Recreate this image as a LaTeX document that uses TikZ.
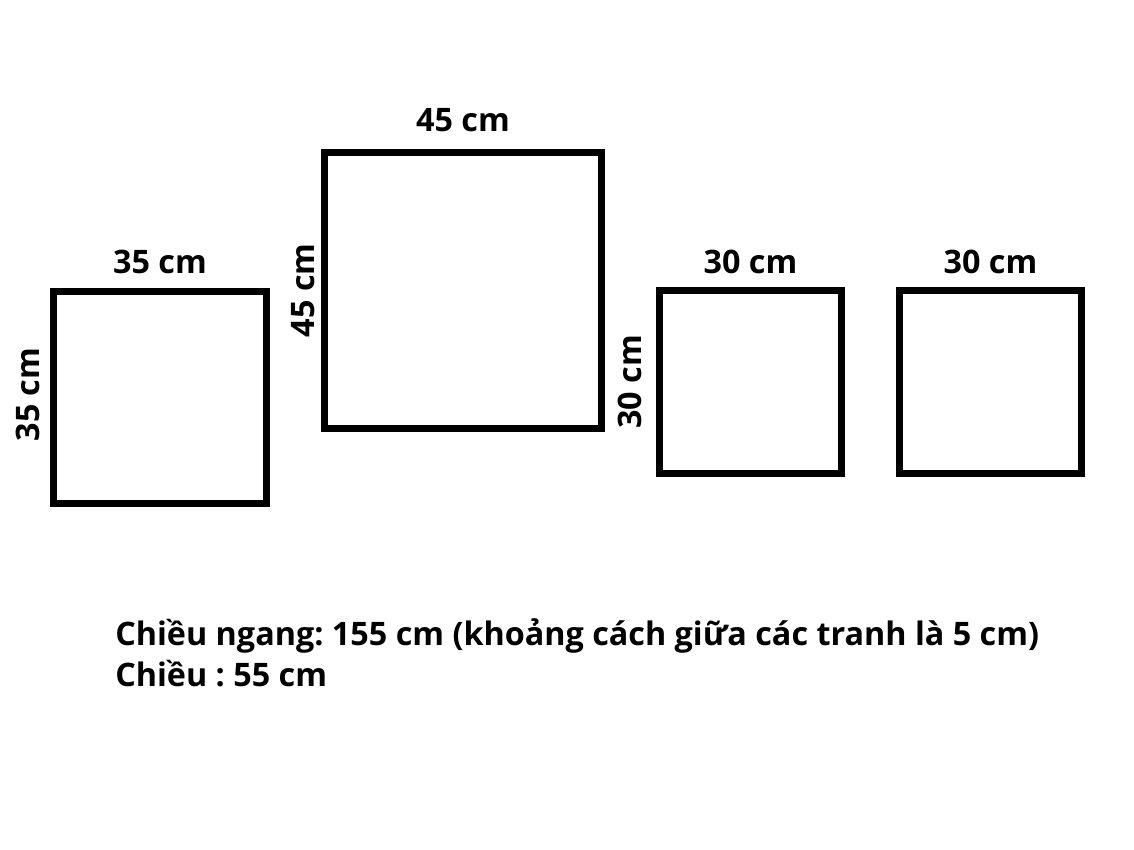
\documentclass[tikz,border=0pt]{standalone}
\usepackage{fontspec}
\setmainfont{Open Sans}
\usetikzlibrary{calc}
\frenchspacing
\begin{document}
\begin{tikzpicture}
[x=0.025cm,y=-0.025cm,%
  framedecorate/.style={shape=rectangle,inner sep=0pt,draw,line width=5pt},%
  sizedecorate/.style={inner sep=0pt,anchor=base,font=\fontsize{23}{29}\selectfont\bfseries},%
  notedecorate/.style={inner sep=0pt,anchor=base west,font=\fontsize{23}{29}\selectfont\bfseries}]
\useasboundingbox (0,0) rectangle (1134,850);
%% frames of the pictures
\foreach \nodename/\x/\y/\side in {b1/160/397.5/5.3cm, b2/463/290.4/6.9cm,
  b3/750.5/382/4.55cm, b4/990.5/382/4.55cm} {
  \node (\nodename) at (\x,\y) [framedecorate,minimum width=\side,minimum height=\side] {};
}
%% sizes above the frames
\foreach \nodename/\dy/\txt in {b1/14.5/35, b2/17.8/45, b3/13.7/30, b4/13.7/30} {
  \node (\nodename top) at ($(\nodename.north)+(0,-\dy)$) [sizedecorate] {\txt{} cm};
}
%% sizes left of the frames
\foreach \nodename/\dx/\dy/\txt in {b1/10.5/-3/35, b2/7/0/45, b3/14.5/0/30} {
  \node (\nodename side) at ($(\nodename.west)+(-\dx,\dy)$) [sizedecorate,rotate=90] {\txt{} cm};
}
%% notes
\node (note1) at (115,645) [notedecorate] {Chiều ngang: 155 cm (khoảng cách giữa các tranh là 5 cm)};
\node (note2) at (115,686) [notedecorate] {Chiều : 55 cm};
\end{tikzpicture}
\end{document}
